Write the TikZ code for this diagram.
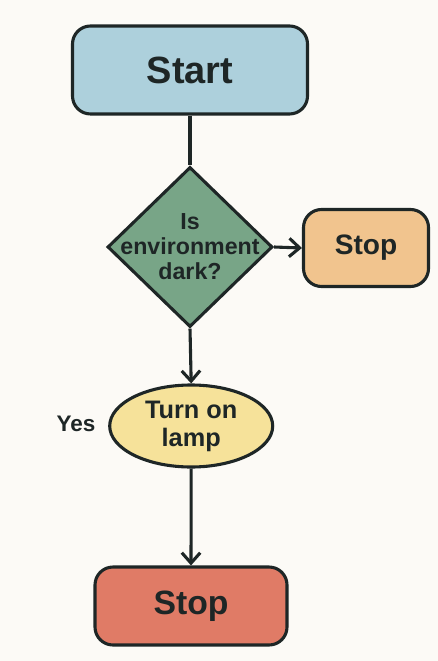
\documentclass[tikz,border=0pt]{standalone}
\usepackage{fontspec}
\setmainfont{Liberation Sans}
\usetikzlibrary{shapes.geometric,arrows.meta}
\definecolor{startblue}{HTML}{ADD0DC}
\definecolor{decgreen}{HTML}{78A587}
\definecolor{stoporange}{HTML}{F1C48E}
\definecolor{lampyellow}{HTML}{F6E29A}
\definecolor{stopred}{HTML}{E07B66}
\definecolor{ink}{HTML}{1E2626}
\definecolor{paper}{HTML}{FCFAF6}
\tikzstyle{rect} = [rectangle, rounded corners=0.45cm, draw=ink, line width=2.2pt, text=ink, text centered, font=\bfseries]
\tikzstyle{decision} = [diamond, draw=ink, line width=2.2pt, inner sep=0pt]
\tikzstyle{oval} = [ellipse, draw=ink, line width=2.2pt, inner sep=0pt, text=ink, align=center, font=\bfseries]
\tikzstyle{line} = [draw=ink, line width=2.2pt]
\tikzstyle{arrow} = [line, -{Straight Barb[length=2.6mm,width=4.6mm,line width=2.2pt]}]

\begin{document}
\begin{tikzpicture}

            \fill[paper] (0,0) rectangle (10.95,-16.525);
            \useasboundingbox (0,0) rectangle (10.95,-16.525);

            %% boxes

            \node (start) [rect, fill=startblue, minimum width=5.875cm, minimum height=2.2cm, font=\fontsize{27}{30}\selectfont\bfseries] at (4.75,-1.75) {Start};
            \node (dark) [decision, fill=decgreen, minimum width=4.125cm, minimum height=4cm] at (4.75,-6.175) {};
            \node [align=center, text=ink, font=\fontsize{16.5}{17.7}\selectfont\bfseries] at (dark.center) {Is\\environment\\dark?};
            \node (stop1) [rect, fill=stoporange, minimum width=3.125cm, minimum height=1.925cm, font=\fontsize{20}{24}\selectfont\bfseries] at (9.15,-6.2) {Stop};
            \node (lamp) [oval, fill=lampyellow, minimum width=4.075cm, minimum height=2.05cm, font=\fontsize{18}{20}\selectfont\bfseries] at (4.78,-10.65) {Turn on\\lamp};
            \node (stop2) [rect, fill=stopred, minimum width=4.8cm, minimum height=1.95cm, font=\fontsize{24}{28}\selectfont\bfseries] at (4.775,-15.15) {Stop};

            \node (yes) [anchor=center, text=ink, font=\fontsize{16}{20}\selectfont\bfseries] at (1.9,-10.6) {Yes};

            %% connectors

            \draw [line] (start) -- (dark);
            \draw [arrow] (dark.east) -- (stop1.west);
            \draw [arrow] (dark.south) -- (lamp.north);
            \draw [arrow] (lamp.south) -- (stop2.north);

        \end{tikzpicture}
\end{document}
